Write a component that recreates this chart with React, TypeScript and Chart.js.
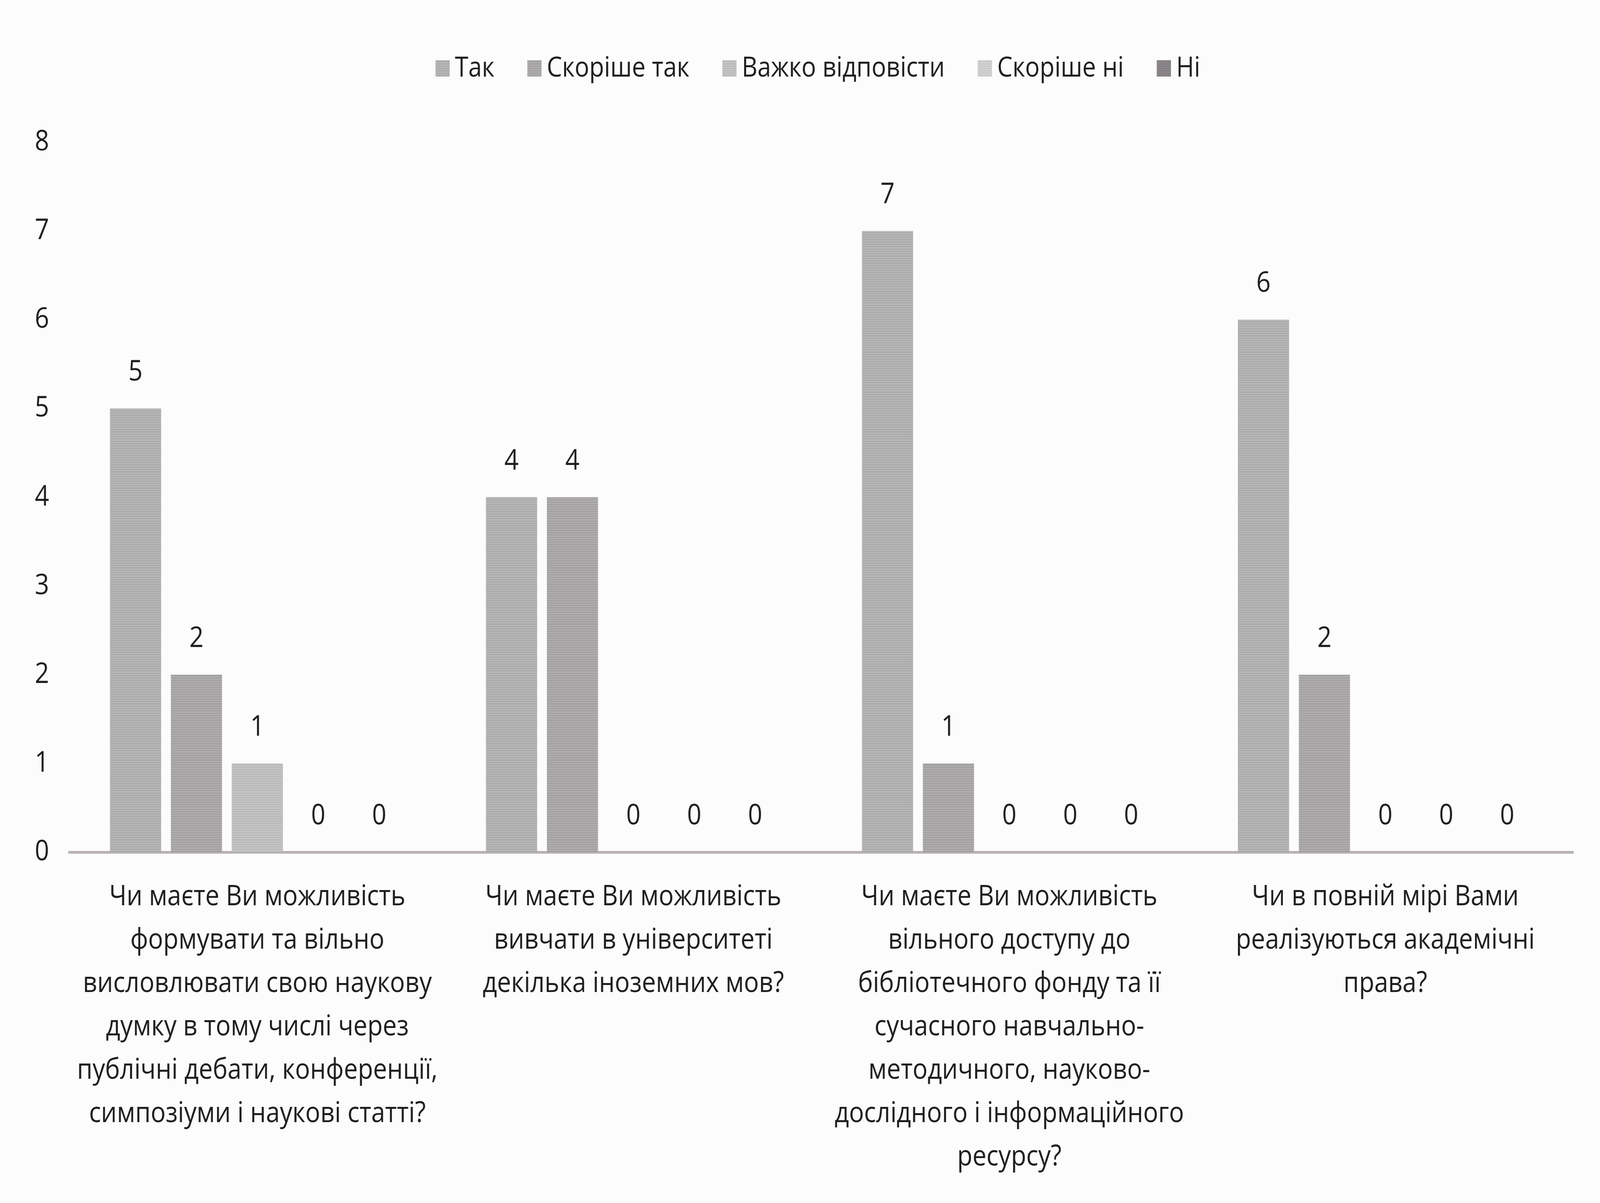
import React, { useEffect, useRef } from "react";
import { Chart, registerables } from "chart.js";

Chart.register(...registerables);

// Drawing surface matches the reference's pixel size; it is then fitted to the window.
const W = 4737;
const H = 3079;

const categories: string[][] = [
  [
    "Чи маєте Ви можливість",
    "формувати та вільно",
    "висловлювати свою наукову",
    "думку в тому числі через",
    "публічні дебати, конференції,",
    "симпозіуми і наукові статті?",
  ],
  ["Чи маєте Ви можливість", "вивчати в університеті", "декілька іноземних мов?"],
  [
    "Чи маєте Ви можливість",
    "вільного доступу до",
    "бібліотечного фонду та її",
    "сучасного навчально-",
    "методичного, науково-",
    "дослідного і інформаційного",
    "ресурсу?",
  ],
  ["Чи в повній мірі Вами", "реалізуються академічні", "права?"],
];

const seriesNames = ["Так", "Скоріше так", "Важко відповісти", "Скоріше ні", "Ні"];
const tak = [5, 4, 7, 6];
const skorisheTak = [2, 4, 1, 2];
const vazhko = [1, 0, 0, 0];
const skorisheNi = [0, 0, 0, 0];
const ni = [0, 0, 0, 0];
const yTicks = [0, 1, 2, 3, 4, 5, 6, 7, 8];

const seriesColors = [
  ["#a9a9a9", "#b9b9b9"],
  ["#a19ea0", "#b2afb1"],
  ["#b8b8b8", "#c6c6c6"],
  ["#c8c8c8", "#d2d2d2"],
  ["#817d80", "#8d898c"],
];

const FONT = '"Open Sans", "Noto Sans", "DejaVu Sans", sans-serif';
const TEXT = "#1e1e1e";

function stripe(dark: string, light: string): CanvasPattern | string {
  const c = document.createElement("canvas");
  c.width = 8;
  c.height = 6;
  const g = c.getContext("2d");
  if (!g) return dark;
  g.fillStyle = light;
  g.fillRect(0, 0, 8, 6);
  g.fillStyle = dark;
  g.fillRect(0, 0, 8, 3);
  const p = g.createPattern(c, "repeat");
  return p || dark;
}

const valueLabels = {
  id: "valueLabels",
  afterDatasetsDraw(chart: any) {
    const ctx = chart.ctx;
    ctx.save();
    ctx.font = `74px ${FONT}`;
    ctx.fillStyle = TEXT;
    ctx.textAlign = "center";
    ctx.textBaseline = "middle";
    chart.data.datasets.forEach((ds: any, i: number) => {
      const meta = chart.getDatasetMeta(i);
      if (meta.hidden) return;
      meta.data.forEach((bar: any, j: number) => {
        ctx.fillText(String(ds.data[j]), bar.x, bar.y - 92);
      });
    });
    ctx.restore();
  },
};

export default function App() {
  const ref = useRef<HTMLCanvasElement | null>(null);

  useEffect(() => {
    let chart: Chart | null = null;
    let cancelled = false;
    document.body.style.margin = "0";

    const build = () => {
      if (cancelled || !ref.current) return;
      const dataArrays = [tak, skorisheTak, vazhko, skorisheNi, ni];
      chart = new Chart(ref.current, {
        type: "bar",
        data: {
          labels: categories,
          datasets: dataArrays.map((d, i) => ({
            label: seriesNames[i],
            data: d,
            backgroundColor: stripe(seriesColors[i][0], seriesColors[i][1]) as any,
            borderWidth: 0,
            barPercentage: 0.84,
            categoryPercentage: 0.81,
          })),
        },
        options: {
          animation: false,
          responsive: false,
          devicePixelRatio: 1,
          layout: { padding: { top: 21, left: 43, right: 79, bottom: 3 } },
          plugins: {
            tooltip: { enabled: false },
            legend: {
              display: true,
              position: "top",
              fullSize: false,
              weight: 1000,
              labels: {
                font: { family: FONT, size: 72 },
                color: TEXT,
                usePointStyle: true,
                pointStyle: "rect",
                boxWidth: 1,
                boxHeight: 42,
                padding: 118,
              },
            } as any,
            title: {
              display: true,
              text: " ",
              position: "top",
              weight: 500,
              font: { size: 10, lineHeight: 1 },
              padding: { top: 0, bottom: 133 },
            } as any,
          },
          scales: {
            x: {
              grid: { display: false, drawTicks: false },
              border: { display: true, color: "#b8b2b6", width: 7 },
              ticks: {
                color: TEXT,
                font: { family: FONT, size: 74, lineHeight: 1.5 },
                padding: 59,
                maxRotation: 0,
                minRotation: 0,
                autoSkip: false,
              },
            },
            y: {
              min: yTicks[0],
              max: yTicks[yTicks.length - 1],
              grid: { display: false, drawTicks: false },
              border: { display: false },
              ticks: {
                stepSize: 1,
                color: TEXT,
                font: { family: FONT, size: 74 },
                padding: 60,
              },
            },
          },
        },
        plugins: [valueLabels],
      });
    };

    const fonts: any = (document as any).fonts;
    if (fonts && fonts.load) {
      Promise.all([
        fonts.load(`72px "Open Sans"`, "Так Скоріше"),
        fonts.load(`74px "Open Sans"`, "0123456789"),
      ])
        .catch(() => null)
        .then(build);
    } else {
      build();
    }

    return () => {
      cancelled = true;
      if (chart) chart.destroy();
    };
  }, []);

  return (
    <div
      style={{
        position: "fixed",
        left: 0,
        top: 0,
        width: "100vw",
        height: "100vh",
        background: "#fcfcfc",
        overflow: "hidden",
      }}
    >
      <canvas ref={ref} width={W} height={H} style={{ display: "block", width: "100%", height: "100%" }} />
    </div>
  );
}
